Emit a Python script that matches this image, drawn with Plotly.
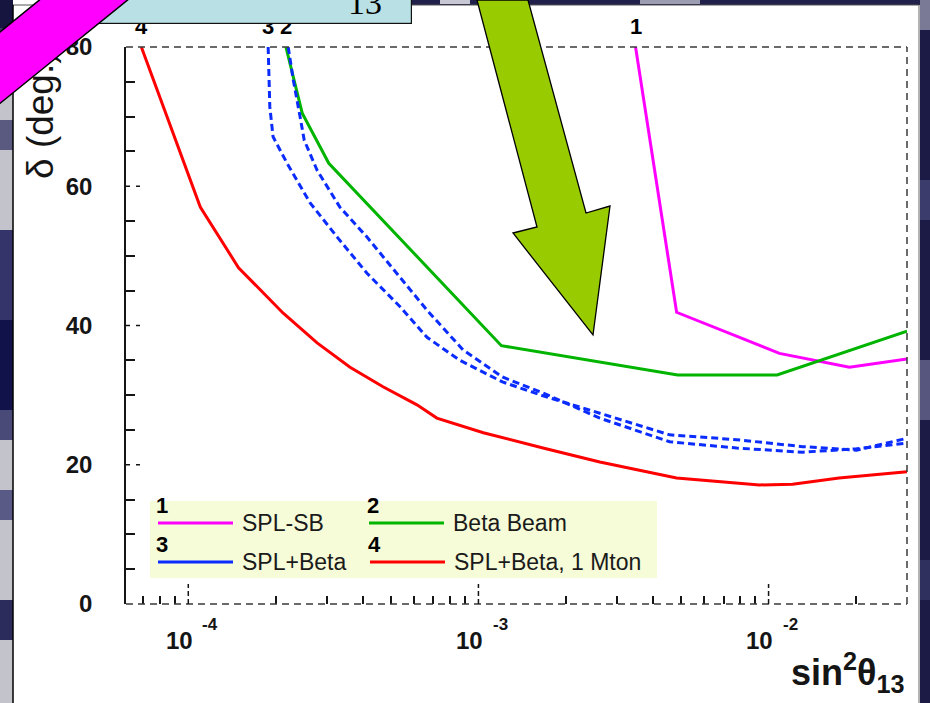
import math
import plotly.graph_objects as go

# ---------------------------------------------------------------
# Sensitivity to CP violation: delta (deg) vs sin^2(theta13)
# ---------------------------------------------------------------
names = ["SPL-SB", "Beta Beam", "SPL+Beta", "SPL+Beta, 1 Mton"]
labels = ["1", "2", "3", "4"]
colors = ["#ff00ff", "#00b400", "#0a2cff", "#ff0000"]

splsb_x = [3.48e-3, 4.82e-3, 1.09e-2, 1.9e-2, 3.0e-2]
splsb_y = [80, 41.9, 36.0, 34.0, 35.2]

beta_x = [2.17e-4, 2.47e-4, 3.05e-4, 1.2e-3, 4.86e-3, 1.07e-2, 3.0e-2]
beta_y = [80, 70.5, 63.3, 37.1, 32.9, 32.9, 39.2]

comb_a_x = [1.885e-4, 1.91e-4, 1.96e-4, 2.19e-4, 2.63e-4, 3.26e-4, 4.13e-4, 5.37e-4, 6.65e-4,
            8.63e-4, 1.21e-3, 1.67e-3, 2.62e-3, 4.56e-3, 7.76e-3, 1.31e-2, 2.01e-2, 3.0e-2]
comb_a_y = [80, 71.4, 67.1, 63.3, 57.6, 52.7, 47.5, 42.7, 38.3,
            35.0, 31.9, 29.9, 27.4, 24.3, 23.6, 22.6, 22.1, 23.8]

comb_b_x = [2.21e-4, 2.30e-4, 2.43e-4, 2.51e-4, 2.78e-4, 3.33e-4, 4.13e-4, 5.24e-4, 6.65e-4,
            8.85e-4, 1.21e-3, 1.67e-3, 2.62e-3, 4.56e-3, 7.76e-3, 1.31e-2, 2.01e-2, 3.0e-2]
comb_b_y = [80, 75.3, 69.9, 66.6, 62.3, 57.0, 52.7, 47.5, 42.2,
            36.5, 32.6, 30.3, 26.7, 23.3, 22.4, 21.8, 22.3, 23.1]

mton_x = [6.89e-5, 1.1e-4, 1.49e-4, 2.12e-4, 2.78e-4, 3.61e-4, 4.69e-4, 6.14e-4, 7.19e-4,
          1.04e-3, 1.67e-3, 2.62e-3, 4.82e-3, 9.3e-3, 1.21e-2, 1.75e-2, 3.0e-2]
mton_y = [80, 57.0, 48.3, 41.8, 37.5, 34.0, 31.2, 28.6, 26.7,
          24.6, 22.4, 20.4, 18.1, 17.1, 17.2, 18.1, 19.0]

x_range = [6.1e-5, 3.0e-2]
x_decades = [1e-4, 1e-3, 1e-2]
x_decade_exp = ["-4", "-3", "-2"]
x_minor = [7e-5, 8e-5, 9e-5] + [m * 1e-4 for m in range(2, 10)] + \
          [m * 1e-3 for m in range(2, 10)] + [2e-2]
y_major = [0, 20, 40, 60, 80]
y_minor = [v for v in range(5, 80, 5) if v % 20]

# ---------------------------------------------------------------
W, H = 930, 703
L, R, T, B = 126, 23, 47, 99
PW, PH = W - L - R, H - T - B


def px(x):
    return (x - L) / PW


def py(y):
    return (H - B - y) / PH


SANS = "Liberation Sans, Arial, sans-serif"
NARROW = "Liberation Sans Narrow, Liberation Sans, sans-serif"
INK = "#151515"
FRAME = "#3a3a3a"

fig = go.Figure()

series = [
    (splsb_x, splsb_y, 0, None),
    (beta_x, beta_y, 1, None),
    (comb_a_x, comb_a_y, 2, "7px,4px"),
    (comb_b_x, comb_b_y, 2, "7px,4px"),
    (mton_x, mton_y, 3, None),
]
for xs, ys, k, dash in series:
    fig.add_trace(go.Scatter(
        x=xs, y=ys, mode="lines", name=names[k], showlegend=False,
        line=dict(color=colors[k], width=3, dash=dash or "solid"),
        hoverinfo="skip",
    ))

shapes = []
annotations = []

# --- slide backdrop around the white panel -----------------------
def rect(x0, y0, x1, y1, color, line=None, opacity=1.0):
    shapes.append(dict(type="rect", xref="paper", yref="paper",
                       x0=px(x0), x1=px(x1), y0=py(y1), y1=py(y0),
                       fillcolor=color, opacity=opacity,
                       line=dict(width=0) if line is None else line,
                       layer="below"))

rect(0, 0, 13, 703, "#c3c3cc")
for (y0, y1, c) in [(0, 28, "#15153f"), (28, 60, "#3a3a66"), (120, 150, "#5a5a80"),
                    (230, 320, "#34346a"), (320, 410, "#12124a"), (410, 440, "#4a4a78"),
                    (490, 520, "#5a5a86"), (600, 640, "#2c2c5c")]:
    rect(0, y0, 13, y1, c)
rect(411, 0, 930, 5, "#20204a")
rect(440, 0, 470, 4, "#c8c8d4")
rect(640, 0, 700, 4, "#9c9cb2")
rect(920, 0, 930, 703, "#1b1b46")
for (y0, y1, c) in [(0, 30, "#7a7a96"), (180, 220, "#3c3c6c"), (360, 420, "#56567e"),
                    (560, 600, "#30305e")]:
    rect(920, y0, 930, y1, c)
shapes.append(dict(type="line", xref="paper", yref="paper", x0=px(919), x1=px(919),
                   y0=py(703), y1=py(5), line=dict(color="#9a9a9a", width=1.5)))
shapes.append(dict(type="line", xref="paper", yref="paper", x0=px(13), x1=px(919),
                   y0=py(5), y1=py(5), line=dict(color="#555555", width=1.2)))
shapes.append(dict(type="line", xref="paper", yref="paper", x0=px(13), x1=px(13),
                   y0=py(703), y1=py(5), line=dict(color="#000000", width=1.5)))

# --- dashed frame of the plot ------------------------------------
DASH = "7px,5px"
shapes += [
    dict(type="line", xref="paper", yref="paper", x0=0, x1=1, y0=1, y1=1,
         line=dict(color=FRAME, width=1.5, dash=DASH)),
    dict(type="line", xref="paper", yref="paper", x0=1, x1=1, y0=0, y1=1,
         line=dict(color=FRAME, width=1.5, dash=DASH)),
    dict(type="line", xref="paper", yref="paper", x0=0, x1=1, y0=0, y1=0,
         line=dict(color=FRAME, width=1.5, dash=DASH)),
]
# dashed major ticks
for v in y_major[1:-1]:
    shapes.append(dict(type="line", xref="paper", yref="y", x0=0, x1=14 / PW, y0=v, y1=v,
                       line=dict(color=INK, width=1.5, dash="4px,6px")))
for v in x_decades:
    shapes.append(dict(type="line", xref="x", yref="paper", x0=v, x1=v, y0=0, y1=20 / PH,
                       line=dict(color=INK, width=1.5, dash="5px,3px")))

# --- hand-made legend --------------------------------------------
rect(150, 501, 657, 578, "#f6fbd8")
shapes[-1]["layer"] = "above"
leg_pos = [(158, 523), (369, 523), (158, 562), (370, 562)]
for k, (lx, ly) in enumerate(leg_pos):
    shapes.append(dict(type="line", xref="paper", yref="paper",
                       x0=px(lx), x1=px(lx + 75), y0=py(ly), y1=py(ly),
                       line=dict(color=colors[k], width=3), layer="above"))
    annotations.append(dict(text=names[k], xref="paper", yref="paper",
                            x=px(lx + 82), y=py(ly), xanchor="left", yanchor="middle",
                            showarrow=False, font=dict(family=SANS, size=23, color="#1a1a1a")))
    annotations.append(dict(text="<b>%s</b>" % labels[k], xref="paper", yref="paper",
                            x=px(lx + 4), y=py(ly - 18), xanchor="center", yanchor="middle",
                            showarrow=False, font=dict(family=NARROW, size=22, color="#000")))

# --- curve numbers where each curve leaves the top of the frame ---
tops = [(splsb_x[0], 0), (beta_x[0], 1), (comb_a_x[0], 2), (mton_x[0], 3)]
for xv, k in tops:
    annotations.append(dict(text="<b>%s</b>" % labels[k], xref="x", yref="y",
                            x=math.log10(xv), y=80, yshift=21, xanchor="center",
                            yanchor="middle", showarrow=False,
                            font=dict(family=NARROW, size=22, color="#000")))

# --- x tick labels: 10 with raised exponent ------------------------
for v, e in zip(x_decades, x_decade_exp):
    annotations.append(dict(text="<b>10</b>", xref="x", yref="paper", x=math.log10(v), y=0,
                            xshift=-9, yshift=-36, xanchor="center", yanchor="middle",
                            showarrow=False, font=dict(family=SANS, size=24, color=INK)))
    annotations.append(dict(text="<b>%s</b>" % e, xref="x", yref="paper", x=math.log10(v), y=0,
                            xshift=22, yshift=-20, xanchor="center", yanchor="middle",
                            showarrow=False, font=dict(family=SANS, size=17, color=INK)))

# --- axis titles ---------------------------------------------------
annotations.append(dict(text="<b>sin<sup>2</sup>θ<sub>13</sub></b>", xref="paper", yref="paper",
                        x=1, y=py(672), xanchor="right", yanchor="middle", showarrow=False,
                        font=dict(family=SANS, size=36, color=INK)))

# title banner strip at the top
annotations.append(dict(text=" ", xref="paper", yref="paper", x=px(233), y=py(7),
                        xanchor="center", yanchor="middle", width=356, height=32,
                        borderpad=0, bgcolor="#b9e0e4", bordercolor="#111111",
                        borderwidth=1.2, showarrow=False))
annotations.append(dict(text="13", xref="paper", yref="paper", x=px(365), y=py(2),
                        xanchor="center", yanchor="middle", showarrow=False,
                        font=dict(family="Liberation Serif, Times New Roman, serif",
                                  size=34, color="#000")))

annotations.append(dict(text="δ (deg.)", xref="paper", yref="paper", x=px(40), y=py(115),
                        xanchor="center", yanchor="middle", textangle=-90, showarrow=False,
                        font=dict(family=SANS, size=37, color=INK)))

# pointer band crossing the upper-left corner
annotations.append(dict(text=" ", xref="paper", yref="paper", x=px(42), y=py(33),
                        xanchor="center", yanchor="middle", width=420, height=54,
                        borderpad=0, textangle=-39, bgcolor="#ff00ff",
                        bordercolor="#000000", borderwidth=1.5, showarrow=False))

# green pointer arrow
arrow_pts = [(477, 0), (537, 227), (513, 233), (593, 335), (610, 206), (586, 213), (528, 0)]
path = "M " + " L ".join("%.5f,%.5f" % (px(a), py(b)) for a, b in arrow_pts) + " Z"
shapes.append(dict(type="path", xref="paper", yref="paper", path=path,
                   fillcolor="#99cc00", line=dict(color="#000000", width=1.3), layer="above"))

fig.update_layout(
    width=W, height=H,
    margin=dict(l=L, r=R, t=T, b=B, pad=0),
    paper_bgcolor="#ffffff", plot_bgcolor="#ffffff",
    showlegend=False,
    shapes=shapes, annotations=annotations,
    xaxis=dict(type="log", range=[math.log10(x_range[0]), math.log10(x_range[1])],
               showgrid=False, zeroline=False, showline=False,
               tickmode="array", tickvals=x_decades, ticks="", showticklabels=False,
               minor=dict(tickmode="array", tickvals=x_minor, ticks="inside", ticklen=8,
                          tickwidth=1.5, tickcolor=INK, showgrid=False)),
    yaxis=dict(range=[0, 80], showgrid=False, zeroline=False,
               showline=True, linecolor=INK, linewidth=1.5,
               tickmode="array", tickvals=y_major, ticktext=[str(v) for v in y_major],
               ticks="", ticklabelstandoff=27,
               tickfont=dict(family=SANS, size=24, color=INK, weight="bold"),
               minor=dict(tickmode="array", tickvals=y_minor, ticks="inside", ticklen=9,
                          tickwidth=1.5, tickcolor=INK, showgrid=False)),
)

fig.write_html("out.html")
